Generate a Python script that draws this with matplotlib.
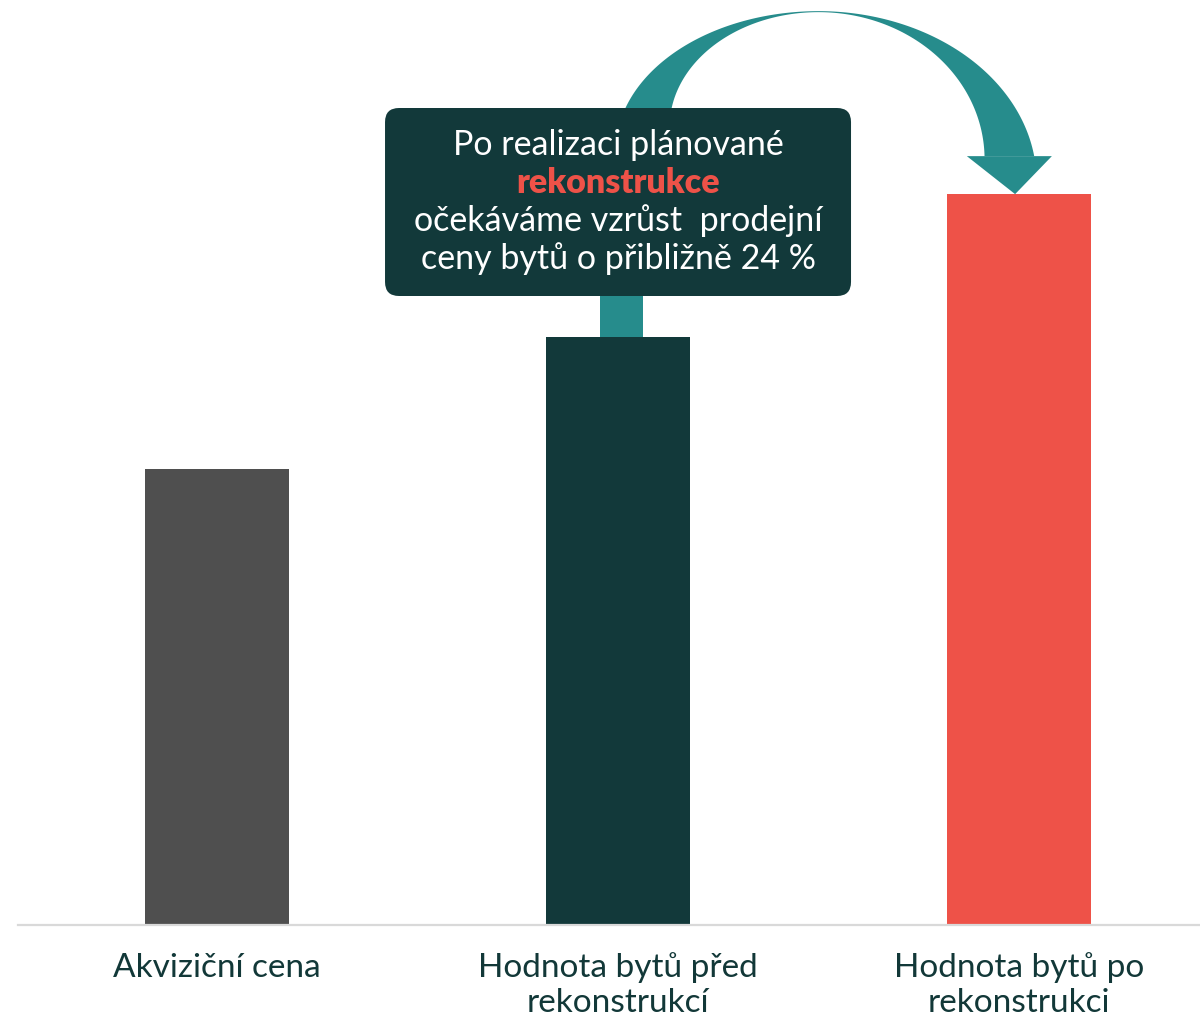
import numpy as np
import matplotlib
matplotlib.use("Agg")
import matplotlib.pyplot as plt
from matplotlib.patches import Polygon, FancyBboxPatch, Rectangle
from matplotlib.transforms import blended_transform_factory

categories = ["Akviziční cena", "Hodnota bytů před\nrekonstrukcí", "Hodnota bytů po\nrekonstrukci"]
values = [62.4, 80.4, 100.0]
bar_colors = ["#4F4F4F", "#12393A", "#EE5248"]
callout_lines = ["Po realizaci plánované", "rekonstrukce",
                 "očekáváme vzrůst  prodejní", "ceny bytů o přibližně 24 %"]

plt.rcParams['font.family'] = ['Lato', 'DejaVu Sans']
TEAL = "#268C8C"
DARK = "#12393A"
RED = "#EE5248"
TXT = "#123838"
FS = 24.5
FS_LAB = 24.0

W, H = 1200, 1020
fig = plt.figure(figsize=(W / 100, H / 100), dpi=100)
ax = fig.add_axes([18 / W, (H - 926) / H, 1 - 18 / W, 926 / H])
x = np.arange(len(values))
ax.bar(x, values, width=0.359, color=bar_colors, zorder=2)
ax.set_xlim(-0.496, 2.451)
ax.set_ylim(0, 126.7)
for s in ["top", "right", "left"]:
    ax.spines[s].set_visible(False)
ax.spines["bottom"].set_color("#D9D9D9")
ax.spines["bottom"].set_linewidth(1.6)
ax.set_yticks([])
ax.set_xticks(x)
ax.set_xticklabels([""] * len(x))
ax.tick_params(axis="x", length=0)

# category labels, one text per line, baselines in figure pixels
blend = blended_transform_factory(ax.transData, fig.transFigure)
label_baselines = [977, 1012]
for xi, cat in zip(x, categories):
    for j, line in enumerate(cat.split("\n")):
        ax.text(xi, (H - label_baselines[j]) / H, line, transform=blend,
                ha="center", va="baseline", fontsize=FS_LAB, color=TXT,
                clip_on=False)

fig.canvas.draw()
S = ax.transData.transform((1, values[1]))
E = ax.transData.transform((2, values[2]))

cx = (S[0] + E[0]) / 2
top_o = E[1] + 183
top_i = top_o - 1
base_y = E[1] + 38
box_bottom = H - 297
box_top = H - 109


def quarter(cxx, cy, a, b, t0, t1, n=80):
    t = np.linspace(t0, t1, n)
    return np.column_stack([cxx + a * np.cos(t), cy + b * np.sin(t)])


ao_l, bo_l = 203, 140
ao_r, bo_r = 218, 170
ai_l, bi_l = 149, 115
ai_r, bi_r = 166, 147
outer_left = quarter(cx, top_o - bo_l, ao_l, bo_l, np.pi, np.pi / 2)
u_end_o = np.arcsin((base_y - (top_o - bo_r)) / bo_r)
outer_right = quarter(cx, top_o - bo_r, ao_r, bo_r, np.pi / 2, u_end_o)
u_end_i = np.arcsin(np.clip((base_y - (top_i - bi_r)) / bi_r, -1, 1))
inner_right = quarter(cx, top_i - bi_r, ai_r, bi_r, u_end_i, np.pi / 2)
inner_left = quarter(cx, top_i - bi_l, ai_l, bi_l, np.pi / 2, np.pi)
low = box_bottom + 20
poly = np.vstack([
    [[cx - ao_l, low]],
    outer_left, outer_right,
    inner_right, inner_left,
    [[cx - ai_l, low]],
])
fig.patches.append(Polygon(poly, closed=True, transform=None, facecolor=TEAL,
                           edgecolor="none", zorder=3, figure=fig))
fig.patches.append(Rectangle((S[0] - 18, S[1]), 43, low + 10 - S[1], transform=None,
                             facecolor=TEAL, edgecolor="none", zorder=3, figure=fig))
hx = (outer_right[-1, 0] + inner_right[0, 0]) / 2
tip = (E[0] - 4, E[1])
head = np.array([[hx - 42.5, base_y], [hx + 42.5, base_y], tip])
fig.patches.append(Polygon(head, closed=True, transform=None, facecolor=TEAL,
                           edgecolor="none", zorder=3, figure=fig))

# callout box
bx0, bx1 = S[0] - 233, S[0] + 233
r = 14
box = FancyBboxPatch((bx0 + r, box_bottom + r), (bx1 - bx0) - 2 * r,
                     (box_top - box_bottom) - 2 * r,
                     boxstyle=f"round,pad={r}", transform=None, facecolor=DARK,
                     edgecolor="none", zorder=4, figure=fig)
fig.patches.append(box)
baselines = [155, 193, 231, 269]
for i, (line, yy) in enumerate(zip(callout_lines, baselines)):
    bold = i == 1
    fig.text(S[0] / W, (H - yy) / H, line, ha="center", va="baseline",
             fontsize=FS, color=RED if bold else "white",
             fontweight="heavy" if bold else "normal", zorder=5)

fig.savefig("out.png", dpi=100, facecolor="white")
